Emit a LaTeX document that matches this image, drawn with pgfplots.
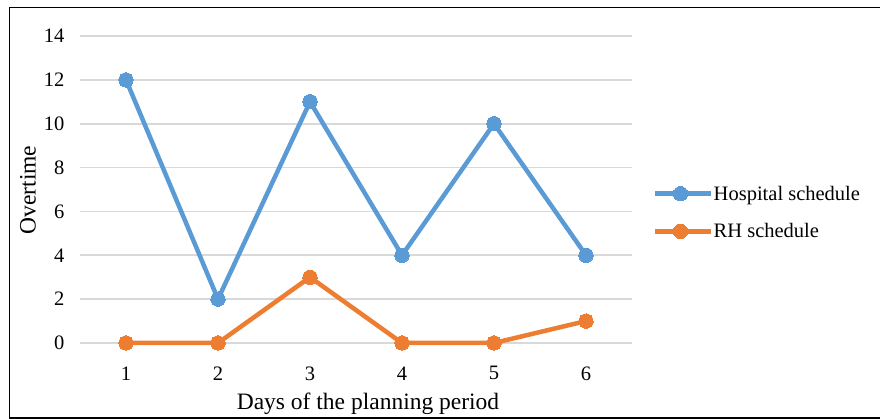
\documentclass[border=0pt]{standalone}
\usepackage{fontspec}
\setmainfont{Liberation Serif}
\usepackage{pgfplots}
\pgfplotsset{compat=1.18}
\definecolor{hosp}{HTML}{5B9BD5}
\definecolor{rh}{HTML}{ED7D31}
\definecolor{gridc}{HTML}{D9D9D9}
\begin{document}
\begin{tikzpicture}[x=1pt,y=1pt,font=\fontsize{20.5}{24}\selectfont]
\path[use as bounding box] (0,0) rectangle (880,419);
\draw[line width=1.8pt,black] (880,411.5) -- (9.5,411.5) -- (9.5,1) -- (880,1);
\begin{axis}[
  at={(80pt,76pt)}, anchor=south west,
  width=552pt, height=307pt, scale only axis,
  xmin=0.5, xmax=6.5, ymin=0, ymax=14,
  xtick={1,2,3,4,5,6}, ytick={0,2,...,14},
  axis line style={draw=none},
  major tick length=0pt,
  ymajorgrids, grid style={gridc, line width=1.6pt},
  /pgf/number format/assume math mode=true,
  ticklabel style={font=\fontsize{20.5}{24}\selectfont},
  yticklabel style={xshift=-12pt},
  xticklabel style={yshift=-20pt},
  clip=false,
  legend style={at={(1.0381,0.425)}, anchor=west, draw=none, fill=none,
    font=\fontsize{20.5}{24}\selectfont, row sep=22pt, inner sep=0pt,
    nodes={inner sep=0pt, anchor=west}},
  legend cell align=left,
  legend image code/.code={
    \draw[#1, mark=none] (0pt,0pt) -- (50pt,0pt);
    \path[#1] plot coordinates {(25pt,0pt)};
    \path (50pt,0pt) -- (56pt,0pt);
  },
]
\addplot[hosp, line width=4.5pt, mark=*, mark size=7.2pt, mark options={solid, line width=0pt, fill=hosp}]
  coordinates {(1,12) (2,2) (3,11) (4,4) (5,10) (6,4)};
\addlegendentry{Hospital schedule}
\addplot[rh, line width=4.5pt, mark=*, mark size=7.2pt, mark options={solid, line width=0pt, fill=rh}]
  coordinates {(1,0) (2,0) (3,3) (4,0) (5,0) (6,1)};
\addlegendentry{RH schedule}
\end{axis}
\node[font=\fontsize{23.5}{28}\selectfont] at (368,15) {Days of the planning period};
\node[rotate=90, font=\fontsize{23.5}{28}\selectfont] at (28,229) {Overtime};
\end{tikzpicture}
\end{document}
